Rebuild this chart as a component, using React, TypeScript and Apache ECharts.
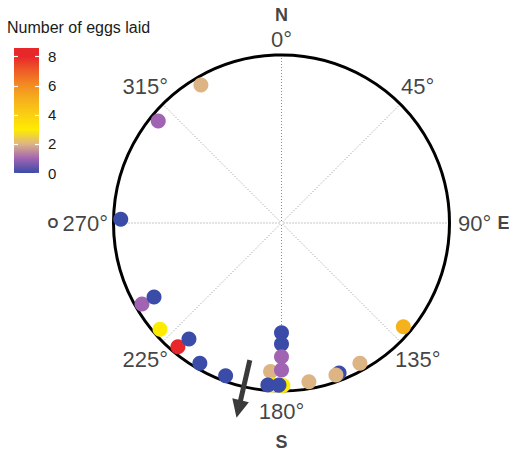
import React, { useEffect, useRef } from 'react';
import * as echarts from 'echarts';

const FONT = "'Liberation Sans', Arial, Helvetica, sans-serif";

// Angle axis ticks and compass points
const angleTicks = [0, 45, 90, 135, 180, 225, 270, 315];
const compassAngles = [0, 90, 180, 270];
const compassLetters = ['N', 'E', 'S', 'O'];

// Colour legend
const legendTitle = 'Number of eggs laid';
const legendTicks = [0, 2, 4, 6, 8];
const legendColors = ['#3A4BA8', '#A064B2', '#DDB584', '#FFEB00', '#FBCF12', '#F6B21C', '#F38E22', '#EE5E27', '#E8272B'];

// Points: orientation (deg), radial position (fraction of circle), eggs laid
const pointAngles = [329.7, 309.6, 271.3, 239.9, 239.9, 228.8, 219.9, 218.6, 210.2, 200.1, 184.2, 180, 180, 180, 180, 183.5, 179.5, 184.8, 180.9, 170.2, 159.0, 160.3, 150.8, 130.4];
const pointRadii = [0.951, 0.952, 0.957, 0.96, 0.877, 0.961, 0.961, 0.883, 0.966, 0.968, 0.887, 0.653, 0.72, 0.796, 0.875, 0.966, 0.967, 0.968, 0.964, 0.959, 0.956, 0.961, 0.957, 0.952];
const eggCounts = [2, 1, 0, 1, 0, 3, 8, 0, 0, 0, 2, 0, 0, 1, 1, 3, 3, 0, 0, 2, 0, 2, 2, 5];

// Mean direction arrow
const meanDirection = 193;

const LEGEND_MAX = 8.6;

export default function App() {
  const ref = useRef<HTMLDivElement>(null);

  useEffect(() => {
    if (!ref.current) return;
    const chart = echarts.init(ref.current, undefined, { renderer: 'svg' });

    const points = pointAngles.map((a, i) => [pointRadii[i], a, eggCounts[i]]);

    const tickItems = angleTicks.map((a) => {
      const k = compassAngles.indexOf(a);
      const deg = `{deg|${a}°}`;
      if (a === 0) return { value: [1.015, a], label: { formatter: `{north|${compassLetters[k]}}\n${deg}`, align: 'center', verticalAlign: 'bottom' } };
      if (a === 180) return { value: [1.045, a], label: { formatter: `${deg}\n{south|${compassLetters[k]}}`, align: 'center', verticalAlign: 'top' } };
      if (a === 90) return { value: [1.051, a], label: { formatter: `{deg|${a}° }{east|${compassLetters[k]}}`, align: 'left', verticalAlign: 'middle' } };
      if (a === 270) return { value: [1.033, a], label: { formatter: `{west|${compassLetters[k]}}${deg}`, align: 'right', verticalAlign: 'middle' } };
      return { value: [1.147, a], label: { formatter: deg, align: 'center', verticalAlign: 'middle' } };
    });

    const gradStops = legendColors.map((c, i) => ({ offset: i / LEGEND_MAX, color: c }));
    gradStops.push({ offset: 1, color: legendColors[legendColors.length - 1] });

    const yAxisCommon = {
      gridIndex: 0,
      type: 'value',
      min: 0,
      max: LEGEND_MAX,
      axisLine: { show: false },
      splitLine: { show: false },
      axisTick: { show: true, inside: true, length: 4, lineStyle: { color: '#ffffff', width: 1.2 }, customValues: legendTicks },
    };

    chart.setOption({
      animation: false,
      textStyle: { fontFamily: FONT },
      title: {
        text: legendTitle,
        left: 7,
        top: 19,
        padding: 0,
        textStyle: { fontSize: 16, fontWeight: 'normal', color: '#1a1a1a', fontFamily: FONT },
      },
      grid: {
        show: true,
        left: 14,
        top: 48,
        width: 25,
        height: 125,
        borderWidth: 0,
        backgroundColor: new echarts.graphic.LinearGradient(0, 1, 0, 0, gradStops),
      },
      xAxis: { gridIndex: 0, type: 'value', min: 0, max: 1, show: false },
      yAxis: [
        { ...yAxisCommon, position: 'left', axisLabel: { show: false } },
        {
          ...yAxisCommon,
          position: 'right',
          axisLabel: { show: true, margin: 9, fontSize: 15, color: '#1a1a1a', fontFamily: FONT, customValues: legendTicks },
        },
      ],
      polar: { center: [281.5, 223], radius: 168 },
      angleAxis: {
        type: 'value',
        min: 0,
        max: 360,
        interval: 45,
        startAngle: 90,
        clockwise: true,
        axisLine: { show: true, lineStyle: { color: '#000', width: 3 } },
        axisTick: { show: false },
        axisLabel: { show: false },
        splitLine: { show: true, lineStyle: { color: '#8c8c8c', width: 1, type: [1, 2] } },
      },
      radiusAxis: {
        type: 'value',
        min: 0,
        max: 1,
        show: false,
        splitLine: { show: false },
      },
      visualMap: {
        type: 'continuous',
        show: false,
        min: 0,
        max: 8,
        dimension: 2,
        seriesIndex: 0,
        inRange: { color: legendColors },
      },
      series: [
        {
          type: 'scatter',
          coordinateSystem: 'polar',
          symbol: 'circle',
          symbolSize: 15,
          data: points,
          itemStyle: { opacity: 1 },
          z: 3,
        },
        {
          type: 'scatter',
          coordinateSystem: 'polar',
          symbolSize: 0,
          clip: false,
          silent: true,
          itemStyle: { color: 'transparent' },
          label: {
            show: true,
            position: 'inside',
            color: '#111',
            rich: {
              deg: { fontSize: 22, lineHeight: 26, color: '#111', fontFamily: FONT },
              north: { fontSize: 18, fontWeight: 'bold', lineHeight: 23, color: '#111', fontFamily: FONT },
              south: { fontSize: 18, fontWeight: 'bold', lineHeight: 34, color: '#111', fontFamily: FONT },
              east: { fontSize: 18, fontWeight: 'bold', lineHeight: 26, color: '#111', fontFamily: FONT },
              west: { fontSize: 14, fontWeight: 'bold', lineHeight: 26, color: '#111', padding: [0, 4, 0, 0], fontFamily: FONT },
            },
          },
          data: tickItems,
          z: 4,
        },
      ],
    });

    const p0 = chart.convertToPixel({ seriesIndex: 0 }, [0.838, meanDirection]) as number[];
    const p1 = chart.convertToPixel({ seriesIndex: 0 }, [1.19, meanDirection]) as number[];
    if (p0 && p1) {
      const dx = p1[0] - p0[0];
      const dy = p1[1] - p0[1];
      const len = Math.sqrt(dx * dx + dy * dy);
      const ux = dx / len;
      const uy = dy / len;
      const headLen = 18;
      const headHalf = 8.5;
      const bx = p1[0] - ux * headLen;
      const by = p1[1] - uy * headLen;
      const nx = -uy;
      const ny = ux;
      chart.setOption({
        graphic: [
          {
            type: 'line',
            z: 10,
            shape: { x1: p0[0], y1: p0[1], x2: bx + ux * 2, y2: by + uy * 2 },
            style: { stroke: '#3a3a3a', lineWidth: 5 },
          },
          {
            type: 'polygon',
            z: 10,
            shape: {
              points: [
                [p1[0], p1[1]],
                [bx + nx * headHalf, by + ny * headHalf],
                [bx - nx * headHalf, by - ny * headHalf],
              ],
            },
            style: { fill: '#3a3a3a' },
          },
        ],
      });
    }

    return () => chart.dispose();
  }, []);

  return (
    <div
      ref={ref}
      style={{ position: 'fixed', left: 0, top: 0, width: 509, height: 452, background: '#fff' }}
    />
  );
}
